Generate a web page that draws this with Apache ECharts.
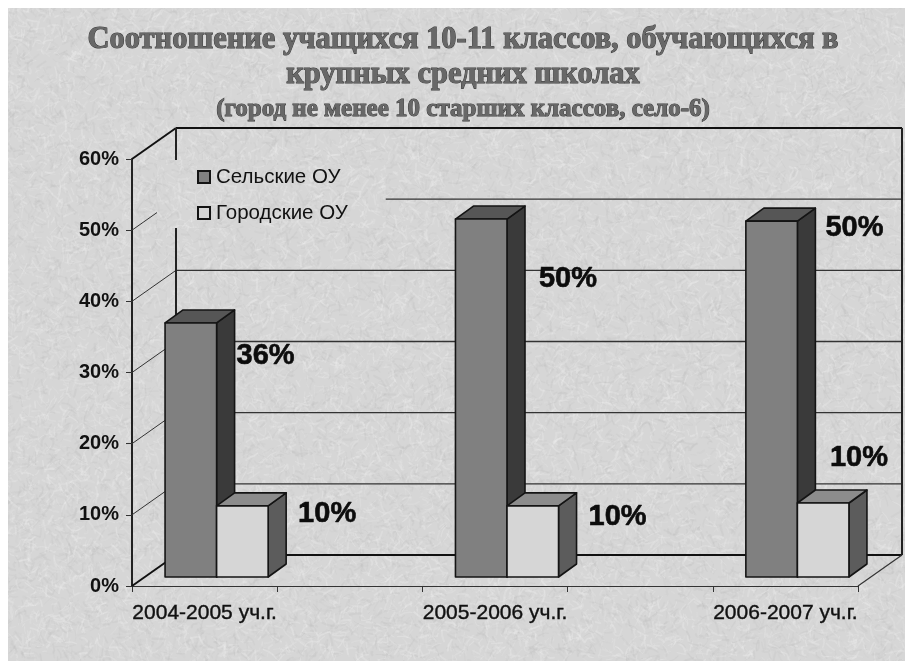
<!DOCTYPE html>
<html><head><meta charset="utf-8">
<style>html,body{margin:0;padding:0;background:#fff}#c{width:905px;height:661px}</style>
<script src="https://cdn.jsdelivr.net/npm/echarts@6/dist/echarts.min.js"></script>
</head><body><div id="c"></div>
<script>
// ---- data ----
var categories = ['2004-2005 уч.г.', ' ', '2005-2006 уч.г.', '  ', '2006-2007 уч.г.'];
var ruralName = 'Сельские ОУ';
var urbanName = 'Городские ОУ';
var ruralValues = [35.7, null, 50.3, null, 50];
var urbanValues = [10, null, 10, null, 10.4];
var yTicks = [0, 10, 20, 30, 40, 50, 60];
var titleLine1 = 'Соотношение учащихся 10-11 классов, обучающихся в';
var titleLine2 = 'крупных средних школах';
var titleLine3 = '(город не менее 10 старших классов, село-6)';

// ---- presentation ----
var WALL = {x: 44, y: -31};     // depth of the chart box
var FRONT = {x: 12, y: -9};     // bar front plane inside the box
var DEPTH = {x: 18, y: -13};    // bar depth
var BAR_FRACTION = 0.355;
var ruralLabelShift = {0: [49, 33], 2: [61, 60], 4: [57, 7]};
var urbanLabelShift = {0: [59, 8], 2: [59, 11], 4: [10, -45]};
var EDGE = '#141414';

// deterministic paper-like texture
function makeTexture() {
  var c = document.createElement('canvas');
  c.width = 905; c.height = 661;
  var g = c.getContext('2d');
  g.fillStyle = '#d6d6d6';
  g.fillRect(0, 0, c.width, c.height);
  var s = 12345;
  function r() { s = (s * 1664525 + 1013904223) % 4294967296; return s / 4294967296; }
  g.lineCap = 'round';
  for (var i = 0; i < 30000; i++) {
    var x = r() * c.width, y = r() * c.height, a = r() * 6.283, l = 3 + r() * 9;
    var light = r() > 0.45;
    g.strokeStyle = light ? 'rgba(236,236,236,' + (0.12 + r() * 0.25) + ')' : 'rgba(190,190,190,' + (0.08 + r() * 0.2) + ')';
    g.lineWidth = 0.8 + r() * 1.4;
    g.beginPath();
    g.moveTo(x, y);
    g.quadraticCurveTo(x + Math.cos(a) * l * 0.5 + (r() - 0.5) * 5, y + Math.sin(a) * l * 0.5 + (r() - 0.5) * 5,
      x + Math.cos(a) * l, y + Math.sin(a) * l);
    g.stroke();
  }
  return c;
}
var texture = makeTexture();
var texturePattern = {image: texture, repeat: 'repeat'};

function line(x1, y1, x2, y2, w, col) {
  return {type: 'line', shape: {x1: x1, y1: y1, x2: x2, y2: y2}, style: {stroke: col || '#2a2a2a', lineWidth: w || 1}, silent: true};
}

function renderWall(params, api) {
  var v = api.value(0);
  var cs = params.coordSys;
  var y = api.coord([0, v])[1];
  var left = cs.x, right = cs.x + cs.width;
  var extreme = v === 0 || v === 60;
  var kids = [];
  kids.push(line(left, y, left + WALL.x, y + WALL.y, extreme ? 2 : 1, extreme ? '#111' : '#333'));
  kids.push(line(left + WALL.x, y + WALL.y, right + WALL.x, y + WALL.y, extreme ? 2 : 1.4, extreme ? '#111' : '#333'));
  if (v === 0) {
    kids.push(line(right, y, right + WALL.x, y + WALL.y, 1.2, '#333'));
  }
  if (v === 60) {
    var bottom = api.coord([0, 0])[1];
    kids.push(line(left + WALL.x, y + WALL.y, left + WALL.x, bottom + WALL.y, 2, '#222'));
    kids.push(line(right + WALL.x, y + WALL.y, right + WALL.x, bottom + WALL.y, 2, '#222'));
  }
  return {type: 'group', children: kids};
}

function poly(points, fill) {
  return {type: 'polygon', shape: {points: points}, style: {fill: fill, stroke: EDGE, lineWidth: 1.6, lineJoin: 'round'}};
}

function makeBarRenderer(side, cols, shifts) {
  return function (params, api) {
    var cat = api.value(0), val = api.value(1);
    if (val == null || isNaN(val)) return null;
    var w = api.size([1, 0])[0] * BAR_FRACTION;
    var c0 = api.coord([cat, 0]), c1 = api.coord([cat, val]);
    var xa = c0[0] + FRONT.x + (side < 0 ? -w : 0);
    var xb = xa + w;
    var yb = c0[1] + FRONT.y, yt = c1[1] + FRONT.y;
    var d = DEPTH;
    var s = shifts[cat];
    return {type: 'group', children: [
      poly([[xb, yt], [xb + d.x, yt + d.y], [xb + d.x, yb + d.y], [xb, yb]], cols.side),
      poly([[xa, yt], [xa + d.x, yt + d.y], [xb + d.x, yt + d.y], [xb, yt]], cols.top),
      poly([[xa, yt], [xb, yt], [xb, yb], [xa, yb]], cols.front),
      {type: 'text', style: {
        text: Math.round(val) + '%', x: xb + s[0], y: yt + s[1],
        align: 'center', verticalAlign: 'middle', fill: '#0c0c0c', stroke: '#0c0c0c', lineWidth: 0.6,
        font: 'bold 29px "Liberation Sans", Arial, sans-serif'
      }}
    ]};
  };
}

var titleFont = {
  fontFamily: '"Liberation Serif", "Times New Roman", serif', fontWeight: 'bold',
  color: '#686868', textBorderColor: '#3c3c3c', textBorderWidth: 1,
  textShadowColor: '#f4f4f4', textShadowBlur: 0, textShadowOffsetX: 1, textShadowOffsetY: 1
};
function titleItem(text, top, size) {
  return {text: text, left: 463, top: top, textAlign: 'center', padding: 0, textStyle: Object.assign({fontSize: size}, titleFont)};
}

var chart = echarts.init(document.getElementById('c'), null, {renderer: 'canvas'});
chart.setOption({
  animation: false,
  backgroundColor: '#ffffff',
  title: [titleItem(titleLine1, 25, 30.5), titleItem(titleLine2, 60, 30.5), titleItem(titleLine3, 97, 25)],
  graphic: [{type: 'rect', z: -100, silent: true, shape: {x: 8, y: 8, width: 897, height: 653}, style: {fill: texturePattern}}],
  grid: {left: 132, right: 47, top: 159, bottom: 75, containLabel: false},
  legend: {
    left: 157, top: 160, orient: 'vertical', itemWidth: 12, itemHeight: 12, itemGap: 12,
    padding: [5, 38, 3, 40], icon: 'rect', backgroundColor: texturePattern,
    textStyle: {fontFamily: '"Liberation Sans", Arial, sans-serif', fontSize: 20.5, color: '#111', padding: [0, 0, 0, 1], lineHeight: 24},
    data: [ruralName, urbanName], selectedMode: false, z: 5
  },
  xAxis: {
    type: 'category', data: categories, boundaryGap: true,
    axisLine: {lineStyle: {color: '#333', width: 1.2}},
    axisTick: {show: true, length: 6, alignWithLabel: false, interval: 0, lineStyle: {color: '#333'}},
    axisLabel: {interval: 0, margin: 17, color: '#111', fontSize: 21, fontFamily: '"Liberation Sans", Arial, sans-serif', width: 160, overflow: 'none', textBorderColor: '#111', textBorderWidth: 0.4},
    splitLine: {show: false}
  },
  yAxis: {
    type: 'value', min: 0, max: 60, interval: 10,
    axisLine: {show: true, lineStyle: {color: '#222', width: 2}},
    axisTick: {show: true, length: 6, lineStyle: {color: '#333'}},
    axisLabel: {margin: 13, color: '#111', fontSize: 20, fontWeight: 'bold', fontFamily: '"Liberation Sans", Arial, sans-serif', formatter: '{value}%'},
    splitLine: {show: false}
  },
  series: [
    {
      name: 'wall', type: 'custom', z: 1, silent: true, clip: false,
      encode: {y: 0}, data: yTicks.map(function (v) { return [v]; }), renderItem: renderWall, legendHoverLink: false, tooltip: {show: false}
    },
    {
      name: ruralName, type: 'custom', z: 6, clip: false,
      itemStyle: {color: '#808080', borderColor: EDGE, borderWidth: 1.5},
      encode: {x: 0, y: 1},
      data: ruralValues.map(function (v, i) { return [i, v]; }),
      renderItem: makeBarRenderer(-1, {front: '#808080', top: '#565656', side: '#3a3a3a'}, ruralLabelShift)
    },
    {
      name: urbanName, type: 'custom', z: 7, clip: false,
      itemStyle: {color: '#d6d6d6', borderColor: EDGE, borderWidth: 1.5},
      encode: {x: 0, y: 1},
      data: urbanValues.map(function (v, i) { return [i, v]; }),
      renderItem: makeBarRenderer(1, {front: '#d6d6d6', top: '#8c8c8c', side: '#5c5c5c'}, urbanLabelShift)
    }
  ]
});
</script></body></html>
